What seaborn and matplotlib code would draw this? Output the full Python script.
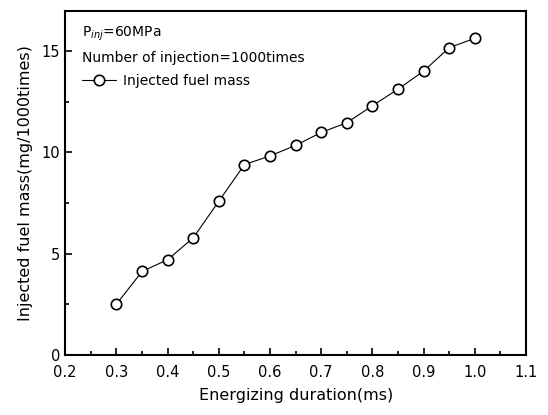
import matplotlib
matplotlib.use("Agg")
import matplotlib.pyplot as plt
import seaborn as sns
import pandas as pd
from matplotlib.ticker import MultipleLocator

duration_ms = [0.30, 0.35, 0.40, 0.45, 0.50, 0.55, 0.60, 0.65, 0.70, 0.75,
               0.80, 0.85, 0.90, 0.95, 1.00]
fuel_mass = [2.50, 4.12, 4.70, 5.78, 7.59, 9.40, 9.83, 10.35, 10.99, 11.47,
             12.31, 13.13, 14.02, 15.18, 15.64]
x_ticks = [0.2, 0.3, 0.4, 0.5, 0.6, 0.7, 0.8, 0.9, 1.0, 1.1]
x_tick_labels = ["0.2", "0.3", "0.4", "0.5", "0.6", "0.7", "0.8", "0.9", "1.0", "1.1"]

sns.set_style("ticks")
plt.rcParams['font.family'] = ['DejaVu Sans']
plt.rcParams['text.color'] = 'black'
plt.rcParams['axes.labelcolor'] = 'black'
plt.rcParams['xtick.color'] = 'black'
plt.rcParams['ytick.color'] = 'black'

df = pd.DataFrame({"duration": duration_ms, "mass": fuel_mass})

fig = plt.figure(figsize=(5.48, 4.15), dpi=100)
ax = fig.add_axes([0.119, 0.145, 0.841, 0.829])

sns.lineplot(data=df, x="duration", y="mass", ax=ax, color="black",
             linewidth=0.8, marker="o", markersize=7.5,
             markerfacecolor="white", markeredgecolor="black",
             markeredgewidth=1.2, label="Injected fuel mass")

ax.set_xlim(0.2, 1.1)
ax.set_ylim(0, 17)
ax.set_xticks(x_ticks)
ax.set_xticklabels(x_tick_labels)
ax.xaxis.set_minor_locator(MultipleLocator(0.05))
ax.yaxis.set_major_locator(MultipleLocator(5))
ax.yaxis.set_minor_locator(MultipleLocator(2.5))
ax.tick_params(which="both", direction="in", top=False, right=False,
               labelsize=10.5, width=1.2)
ax.tick_params(which="major", length=5)
ax.tick_params(axis="x", which="major", pad=7)
ax.tick_params(which="minor", length=3)
for s in ax.spines.values():
    s.set_linewidth(1.5)
    s.set_color("black")

ax.set_xlabel("Energizing duration(ms)", fontsize=11.5, labelpad=6)
ax.set_ylabel("Injected fuel mass(mg/1000times)", fontsize=11.5, labelpad=6)

ax.text(0.037, 0.932, r"P$_{inj}$=60MPa", transform=ax.transAxes,
        fontsize=10, va="center", ha="left")
ax.text(0.037, 0.862, "Number of injection=1000times", transform=ax.transAxes,
        fontsize=10, va="center", ha="left")
leg = ax.legend(loc="center left", bbox_to_anchor=(0.037, 0.795), frameon=False,
                fontsize=10, handlelength=2.4, handletextpad=0.55,
                borderaxespad=0.0, borderpad=0.0)

fig.savefig("out.png", dpi=100)
